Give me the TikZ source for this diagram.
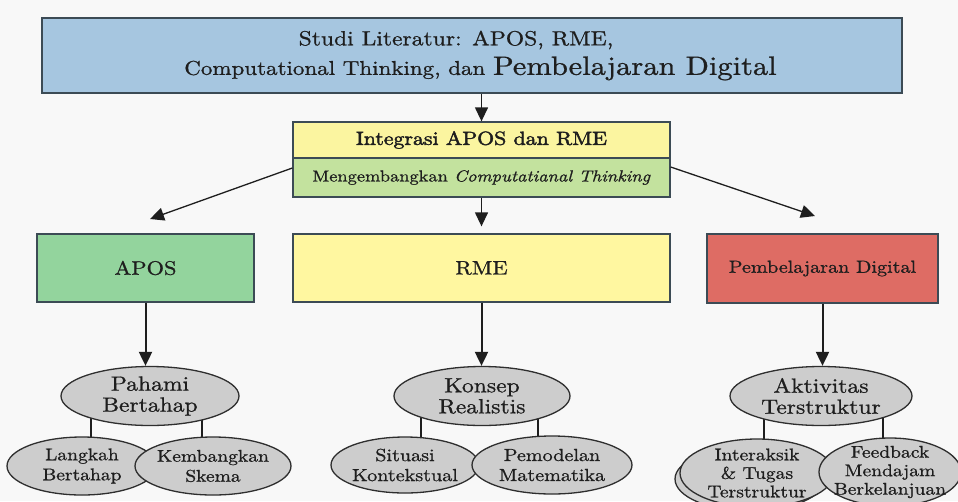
\documentclass[tikz,border=0pt]{standalone}
\usepackage{fontspec}
\setmainfont{lmroman10}[Extension=.otf, UprightFont=*-regular, BoldFont=*-bold, ItalicFont=*-italic, BoldItalicFont=*-bolditalic, FakeStretch=1.15, FakeBold=0.9]
\newfontfamily\mediumfont{lmroman10-regular.otf}[FakeStretch=1.15, FakeBold=2.2]
\usetikzlibrary{arrows.meta, shapes.geometric, backgrounds}

\definecolor{bg}{HTML}{F8F8F8}
\definecolor{topblue}{HTML}{A6C6E0}
\definecolor{boxline}{HTML}{3C4B55}
\definecolor{midyellow}{HTML}{FBF5A0}
\definecolor{midgreen}{HTML}{C3E29E}
\definecolor{aposgreen}{HTML}{93D49D}
\definecolor{rmeyellow}{HTML}{FFF7A0}
\definecolor{digired}{HTML}{DE6C64}
\definecolor{ovalfill}{HTML}{CDCDCD}
\definecolor{ovalline}{HTML}{2E2E2E}
\definecolor{txt}{HTML}{1E1E1E}
\definecolor{lineclr}{HTML}{1E1E1E}

\newcommand{\fs}[2]{\fontsize{#1}{#2}\selectfont}

\tikzset{
  box/.style={draw=boxline, line width=1.3pt, inner sep=0pt, align=center, text=txt},
  oval/.style={ellipse, draw=ovalline, fill=ovalfill, line width=1.3pt,
               inner sep=-15pt, align=center, text=txt},
  arr/.style={draw=lineclr, line width=1.3pt, -{Triangle[length=14pt,width=13pt]}},
  thickarr/.style={arr, line width=2pt},
  link/.style={draw=lineclr, line width=2.4pt},
}

\begin{document}
\begin{tikzpicture}[x=1pt,y=-1pt]
\useasboundingbox (0,0) rectangle (958,501);

% top: literature study
\node[box, fill=topblue, minimum width=860pt, minimum height=75pt, font=\fs{20.5}{29.5}]
  (lit) at (472,55.5)
  {Studi Literatur: APOS, RME,\hspace*{32pt}\\
   \hspace*{17pt}{\fs{20}{29.5}Computational Thinking, dan {\fs{26.5}{29.5}Pembelajaran Digital}}};

% integration box, two bands
\node[box, fill=midyellow, minimum width=377pt, minimum height=36pt, font=\mediumfont\fs{19}{22}]
  (integ) at (481.5,140) {Integrasi APOS dan RME};
\node[box, fill=midgreen, minimum width=377pt, minimum height=39pt, font=\fs{16}{19}]
  (cthink) at (481.5,177.5) {Mengembangkan \textit{Computatianal Thinking}};

% three approaches
\node[box, fill=aposgreen, minimum width=217pt, minimum height=68pt, font=\fs{19.5}{22}]
  (apos) at (145.5,268) {APOS};
\node[box, fill=rmeyellow, minimum width=377pt, minimum height=68pt, font=\fs{19.5}{22}]
  (rme) at (481.5,268) {RME};
\node[box, fill=digired, minimum width=231pt, minimum height=69pt, font=\fs{17.5}{20}]
  (digi) at (822.5,268.5) {Pembelajaran Digital};

% arrow ends above the three boxes
\coordinate (tipL) at (150,219);
\coordinate (tipR) at (815,216);

% ovals, APOS branch
\node[oval, minimum width=178pt, minimum height=59pt, font=\fs{20.5}{21}]
  (pah) at (150,396) {Pahami\\Bertahap};
\node[oval, minimum width=150pt, minimum height=58pt, font=\fs{17}{20}]
  (lang) at (82,466) {Langkah\\Bertahap};
\node[oval, minimum width=156pt, minimum height=58pt, font=\fs{17}{20}]
  (kemb) at (213,466) {Kembangkan\\Skema};

% ovals, RME branch
\node[oval, minimum width=176pt, minimum height=59pt, font=\fs{20.5}{21}]
  (kons) at (482,396) {Konsep\\Realistis};
\node[oval, minimum width=148pt, minimum height=56pt, font=\fs{17.5}{20}]
  (situ) at (405,465) {Situasi\\Kontekstual};
\node[oval, minimum width=160pt, minimum height=58pt, font=\fs{17.5}{20}]
  (pemo) at (552,465) {Pemodelan\\Matematika};

% ovals, digital learning branch
\node[oval, minimum width=182pt, minimum height=59pt, font=\fs{20.5}{21}]
  (akt) at (821,396) {Aktivitas\\Terstruktur};
\node[oval, minimum width=150pt, minimum height=64pt] (intback) at (750,479) {};
\node[oval, minimum width=154pt, minimum height=68pt, font=\fs{17}{18.5}]
  (inter) at (757,473) {Interaksik\\\& Tugas\\Terstruktur};
\node[oval, minimum width=142pt, minimum height=68pt, font=\fs{17}{18.5}]
  (feed) at (890,472) {Feedback\\Mendajam\\Berkelanjuan};

% arrows
\draw[arr] (integ.north |- lit.south) -- (integ.north);
\draw[arr] ([yshift=9.5pt]cthink.west) -- (tipL);
\draw[arr] ([yshift=10.5pt]cthink.east) -- (tipR);
\draw[arr] (cthink.south) -- ([yshift=7pt]rme.north);

\draw[thickarr] (apos.south) -- (apos.south |- pah.north);
\draw[thickarr] (rme.south) -- (rme.south |- kons.north);
\draw[thickarr] (digi.south) -- (digi.south |- akt.north);

% background and the short links between ovals
\begin{pgfonlayer}{background}
  \fill[bg] (0,0) rectangle (958,501);
  \draw[link] ([xshift=-59pt]pah.center) -- ([xshift=-59pt]pah.center |- lang.center);
  \draw[link] ([xshift=52pt]pah.center) -- ([xshift=52pt]pah.center |- kemb.center);
  \draw[link] ([xshift=-61pt]kons.center) -- ([xshift=-61pt]kons.center |- situ.center);
  \draw[link] ([xshift=56pt]kons.center) -- ([xshift=56pt]kons.center |- pemo.center);
  \draw[link] ([xshift=-57pt]akt.center) -- ([xshift=-57pt]akt.center |- inter.center);
  \draw[link] ([xshift=62pt]akt.center) -- ([xshift=62pt]akt.center |- feed.center);
\end{pgfonlayer}
\end{tikzpicture}
\end{document}
